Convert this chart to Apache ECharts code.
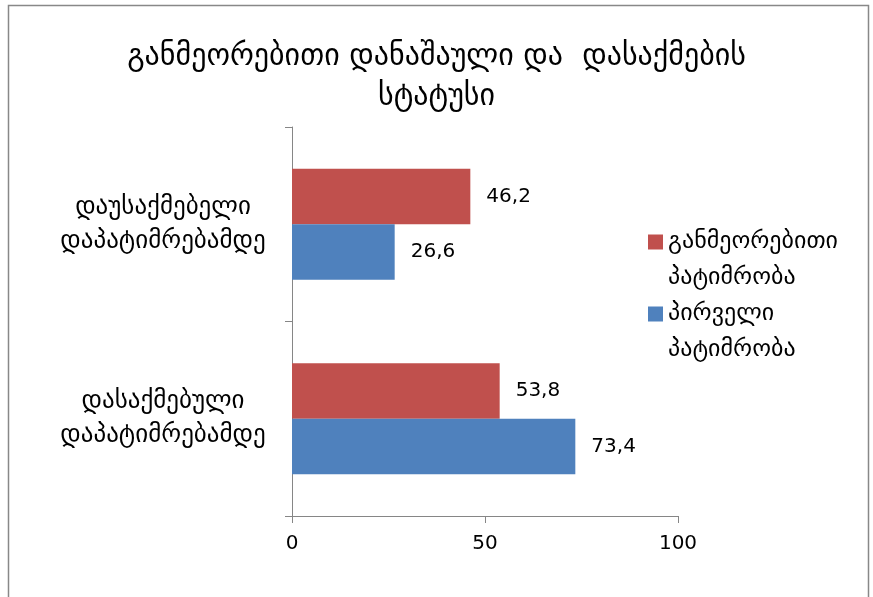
<!DOCTYPE html>
<html><head><meta charset="utf-8">
<script src="https://cdn.jsdelivr.net/npm/echarts@6/dist/echarts.min.js"></script>
<style>html,body{margin:0;padding:0;background:#fff}#c{width:873px;height:597px}</style>
</head><body><div id="c"></div>
<script>
const categories = ['დასაქმებული\nდაპატიმრებამდე', 'დაუსაქმებელი\nდაპატიმრებამდე'];
const seriesNames = ['განმეორებითი პატიმრობა', 'პირველი პატიმრობა'];
const repeatValues = [53.8, 46.2];
const firstValues = [73.4, 26.6];
const xTicks = [0, 50, 100];
const titleText = 'განმეორებითი დანაშაული და  დასაქმების\nსტატუსი';

const FONT = '"DejaVu Sans", sans-serif';
const chart = echarts.init(document.getElementById('c'));
const labelFmt = p => String(p.value).replace('.', ',');
chart.setOption({
  animation: false,
  title: {
    text: titleText, left: 'center', top: 32, padding: [5, 0, 5, 16],
    textStyle: {fontFamily: FONT, fontSize: 30, fontWeight: 'normal', color: '#000', lineHeight: 40}
  },
  graphic: [{type: 'rect', shape: {x: 8.5, y: 5.5, width: 860, height: 600}, style: {fill: 'none', stroke: '#888', lineWidth: 1.5}, silent: true}],
  legend: {
    orient: 'vertical', left: 643, top: 183,
    data: [seriesNames[0], seriesNames[1]],
    itemWidth: 15, itemHeight: 15, itemGap: -36,
    icon: 'rect',
    formatter: n => '\n' + n.replace(' ', '\n'),
    textStyle: {fontFamily: FONT, fontSize: 24, color: '#000', lineHeight: 36}
  },
  grid: {left: 292, right: 195, top: 127, bottom: 81, containLabel: false},
  xAxis: {
    type: 'value', min: 0, max: 100, interval: 50,
    axisLine: {show: true, lineStyle: {color: '#868686', width: 1}},
    axisTick: {show: true, length: 7, lineStyle: {color: '#868686'}},
    splitLine: {show: false},
    axisLabel: {fontFamily: FONT, fontSize: 20, color: '#000', margin: 18,
      formatter: v => xTicks.includes(v) ? String(v) : ''}
  },
  yAxis: {
    type: 'category', data: categories,
    axisLine: {show: true, lineStyle: {color: '#868686', width: 1}},
    axisTick: {show: true, length: 7, lineStyle: {color: '#868686'}},
    axisLabel: {fontFamily: FONT, fontSize: 25, color: '#000', lineHeight: 34, align: 'center', margin: 129,
      padding: [20, 0, 0, 0]}
  },
  series: [
    {name: seriesNames[0], type: 'bar', data: repeatValues, barGap: '0%', barCategoryGap: '43%',
     itemStyle: {color: '#C0504D'},
     label: {show: true, position: 'right', distance: 16, fontFamily: FONT, fontSize: 20, color: '#000', formatter: labelFmt}},
    {name: seriesNames[1], type: 'bar', data: firstValues, barGap: '0%', barCategoryGap: '43%',
     itemStyle: {color: '#4F81BD'},
     label: {show: true, position: 'right', distance: 16, fontFamily: FONT, fontSize: 20, color: '#000', formatter: labelFmt}}
  ]
});
</script></body></html>
